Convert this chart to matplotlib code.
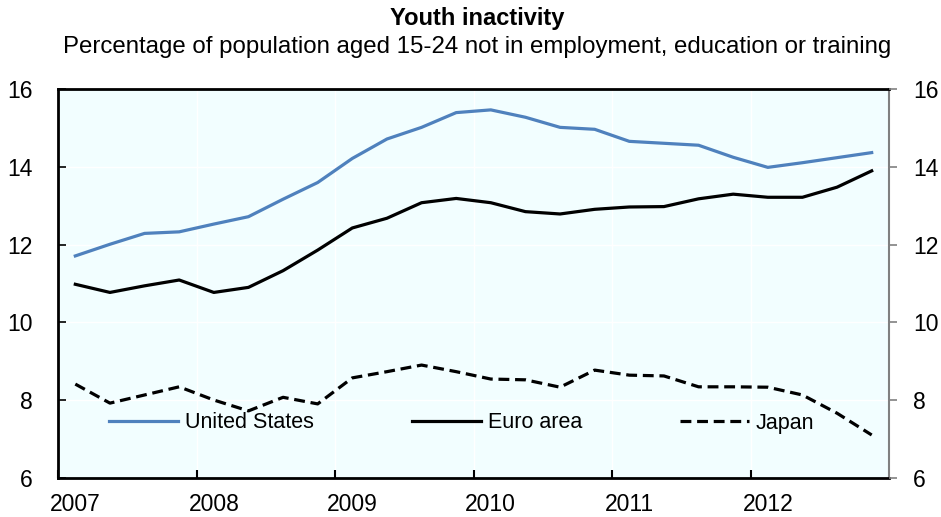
import matplotlib
matplotlib.use("Agg")
import matplotlib.pyplot as plt
import numpy as np

# ---- data (quarterly, 2007Q1 - 2012Q4) ----
quarters = [f"{y}Q{q}" for y in range(2007, 2013) for q in range(1, 5)]
united_states = [11.71, 12.01, 12.29, 12.33, 12.53, 12.72, 13.17, 13.60,
                 14.22, 14.72, 15.02, 15.40, 15.47, 15.28, 15.02, 14.97,
                 14.66, 14.61, 14.56, 14.25, 13.99, 14.11, 14.24, 14.37]
euro_area = [10.98, 10.77, 10.94, 11.09, 10.77, 10.90, 11.33, 11.86,
             12.43, 12.68, 13.08, 13.19, 13.08, 12.85, 12.79, 12.91,
             12.97, 12.98, 13.18, 13.30, 13.22, 13.22, 13.48, 13.90]
japan = [8.41, 7.92, 8.13, 8.34, 8.00, 7.72, 8.07, 7.90,
         8.57, 8.73, 8.90, 8.73, 8.54, 8.52, 8.33, 8.77,
         8.64, 8.62, 8.34, 8.34, 8.33, 8.13, 7.66, 7.10]
years = [2007, 2008, 2009, 2010, 2011, 2012]
series_names = ["United States", "Euro area", "Japan"]

plt.rcParams["font.family"] = ["Liberation Sans", "DejaVu Sans"]

x = np.array([int(q[:4]) + (int(q[-1]) - 1) * 0.25 + 0.125 for q in quarters])

fig = plt.figure(figsize=(9.41, 5.17), dpi=100)
ax = fig.add_axes([58 / 941, 1 - 477.7 / 517, (889 - 58) / 941, (477.7 - 89.3) / 517])
ax.set_facecolor("#F2FEFF")

blue = "#4F81BD"
ax.plot(x, united_states, color=blue, lw=2.3, label=series_names[0],
        solid_joinstyle="round", zorder=3)
ax.plot(x, euro_area, color="black", lw=2.3, label=series_names[1],
        solid_joinstyle="round", zorder=3)
ax.plot(x, japan, color="black", lw=2.3, ls=(0, (3.4, 1.8)), label=series_names[2],
        zorder=3)

ax.set_xlim(2007, 2013)
ax.set_ylim(6, 16)
ax.set_yticks([6, 8, 10, 12, 14, 16])

# grid (faint white)
for yv in [8, 10, 12, 14]:
    ax.axhline(yv, color="white", lw=1.0, zorder=1)
for xv in years[1:]:
    ax.axvline(xv, color="white", lw=1.0, zorder=1)

# x ticks at years (inward), labels offset to first quarter
ax.set_xticks(years)
ax.set_xticklabels([])
ax.set_xticks([y + 0.125 for y in years], minor=True)
ax.set_xticklabels([str(y) for y in years], minor=True, fontsize=16.5)
ax.tick_params(axis="x", which="major", direction="in", length=5.8, width=1.5, color="black")
ax.tick_params(axis="x", which="minor", length=0, pad=11)

ax.tick_params(axis="y", direction="in", length=5.8, width=1.2, labelsize=16.5,
               pad=18, colors="black")

for side in ["left", "top", "bottom"]:
    ax.spines[side].set_color("black")
    ax.spines[side].set_linewidth(2)
ax.spines["right"].set_color("#808080")
ax.spines["right"].set_linewidth(1.5)

ax2 = ax.twinx()
ax2.set_ylim(6, 16)
ax2.set_yticks([6, 8, 10, 12, 14, 16])
ax2.tick_params(axis="y", direction="out", length=5.8, width=1.2, color="#808080",
                labelcolor="black", labelsize=16.5, pad=11.5)
for side in ["left", "top", "bottom", "right"]:
    ax2.spines[side].set_visible(False)

leg = ax.legend(loc="center left", bbox_to_anchor=((109 - 58) / 831, (477.7 - 423) / 388.4),
                ncol=3, frameon=False, fontsize=15.5, handlelength=3.2,
                handletextpad=0.33, columnspacing=4.55, borderpad=0, borderaxespad=0)

fig.text(477 / 941, 1 - 18 / 517, "Youth inactivity", ha="center", va="center",
         fontsize=17, fontweight="bold")
fig.text(477 / 941, 1 - 47 / 517,
         "Percentage of population aged 15-24 not in employment, education or training",
         ha="center", va="center", fontsize=17.3)

fig.savefig("out.png", dpi=100)
